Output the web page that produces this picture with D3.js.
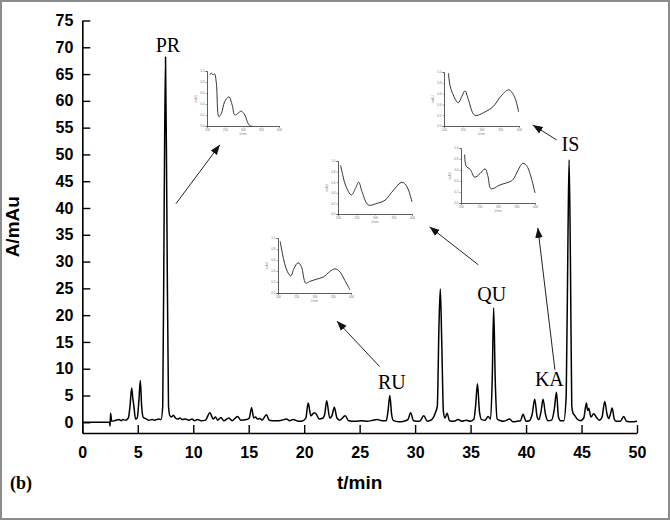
<!DOCTYPE html>
<html>
<head>
<meta charset="utf-8">
<script src="https://cdn.jsdelivr.net/npm/d3@7"></script>
<style>
  body { margin: 0; background: #fff; }
  svg { display: block; }
</style>
</head>
<body>
<div id="chart"></div>
<script>
// chromatogram, [t/min, A/mAu]
const chromatogram = [
  [0,0],[2.45,0],[2.5,-0.7],[2.55,1.7],[2.65,0.2],[2.9,0.3],[3.3,0.5],[3.5,0.3],[3.65,0.5],[3.9,0.4],
  [4.15,0.8],[4.3,3.0],[4.45,6.4],[4.55,4.5],[4.65,3.0],[4.8,0.6],[4.95,0.8],[5.1,4.0],[5.23,7.8],[5.35,3.0],
  [5.5,0.9],[5.8,0.6],[6.0,0.4],[6.3,0.5],[6.5,0.4],[6.9,0.6],[7.1,0.5],[7.25,3],[7.38,40],[7.5,68.2],
  [7.62,40],[7.77,3],[7.9,1.2],[8.05,1.0],[8.2,1.3],[8.4,0.8],[8.6,0.6],[8.8,0.8],[9.0,0.5],[9.3,0.6],
  [9.6,0.4],[9.9,0.6],[10.1,0.3],[10.4,0.5],[10.7,0.3],[11.1,0.4],[11.5,1.8],[11.8,0.6],[12.0,1.0],[12.2,0.4],
  [12.5,0.9],[12.75,0.3],[13.2,0.8],[13.5,0.3],[14.0,1.1],[14.3,0.4],[14.8,0.5],[15.05,0.8],[15.26,2.7],[15.45,0.8],
  [15.6,1.0],[15.8,0.6],[16.0,0.7],[16.2,0.4],[16.6,1.4],[16.85,0.4],[17.4,0.3],[18.0,0.4],[18.4,0.6],[18.7,0.3],
  [19.0,0.5],[19.5,0.2],[19.9,0.3],[20.15,0.8],[20.36,3.6],[20.6,1.2],[20.9,1.8],[21.1,1.5],[21.35,0.6],[21.7,0.8],
  [21.85,1.5],[22.03,4.0],[22.3,0.8],[22.5,1.2],[22.72,2.8],[22.95,0.8],[23.2,0.4],[23.7,1.2],[24.0,0.3],[24.6,0.2],
  [25.2,0.3],[25.7,0.2],[26.2,0.4],[26.6,0.5],[27.0,0.3],[27.4,0.3],[27.55,2.0],[27.72,5.0],[27.88,1.5],[28.05,0.3],
  [28.5,0.1],[29.0,0.2],[29.35,0.5],[29.6,1.8],[29.85,0.3],[30.4,0.2],[30.78,1.2],[31.1,0.2],[31.5,0.5],[31.85,1.9],
  [32.0,3.0],[32.15,18],[32.27,24.9],[32.4,15],[32.55,2.0],[32.7,0.8],[32.88,1.7],[33.1,0.3],[33.5,0.2],[33.9,0.5],
  [34.2,0.2],[34.6,0.4],[35.0,0.2],[35.3,0.6],[35.45,3],[35.62,7.2],[35.8,2],[36.0,0.5],[36.3,0.4],[36.58,1.1],
  [36.8,0.6],[36.95,8],[37.08,21.4],[37.22,8],[37.4,0.6],[37.7,0.3],[38.0,0.2],[38.53,0.6],[38.8,0.1],[39.2,0.2],
  [39.5,0.3],[39.73,1.5],[40.0,0.2],[40.3,0.3],[40.55,1.5],[40.78,4.3],[41.0,1.0],[41.15,0.5],[41.35,2.0],[41.53,4.3],
  [41.75,1.5],[41.98,0.3],[42.3,0.4],[42.55,2.5],[42.74,5.6],[42.92,1.0],[43.1,0.3],[43.4,0.3],[43.62,5],[43.78,35],
  [43.88,49],[44.0,30],[44.12,3.0],[44.22,1.8],[44.38,1.3],[44.6,0.6],[44.9,0.3],[45.2,0.8],[45.44,3.6],[45.55,2.2],
  [45.65,2.6],[45.85,1.0],[46.1,1.6],[46.35,0.9],[46.6,0.4],[46.85,1.0],[47.09,3.9],[47.3,1.5],[47.45,0.7],[47.6,1.5],
  [47.76,2.65],[47.95,0.6],[48.1,0.2],[48.5,0.2],[48.8,1.1],[49.05,0.2],[49.5,0.1],[50.0,0.2]
];

const xTicks = [0, 5, 10, 15, 20, 25, 30, 35, 40, 45, 50];
const yTicks = [0, 5, 10, 15, 20, 25, 30, 35, 40, 45, 50, 55, 60, 65, 70, 75];

// peak names, where the label sits [t, A]
const peakNames = ["PR", "RU", "QU", "KA", "IS"];
const labelAt = [[7.72, 69.1], [27.9, 6.2], [36.9, 22.7], [42.1, 6.8], [44.0, 50.6]];
// arrows from label to spectrum, [t, A] tail -> head
const arrowFrom = [[8.44, 40.8], [26.8, 10.4], [35.7, 29.4], [42.6, 9.8], [42.76, 52.7]];
const arrowTo   = [[12.4, 51.8], [22.95, 18.9], [31.3, 36.5], [41.06, 36.3], [40.6, 55.5]];

// UV spectra of each peak, [nm, relative absorbance]
const specPR = [[207,93],[213,96],[217,93],[221,95],[226,78],[233,17],[240,23],[249,44],[261,53],[270,38],
  [277,20],[286,23],[295,27],[305,20],[314,5],[320,0],[326,0]];
const specRU = [[206,94],[212,72],[218,54],[228,36],[235,31],[244,45],[255,55],[264,48],[276,18],[287,21],
  [305,25],[324,29],[342,39],[356,44],[369,39],[383,23],[397,6]];
const specQU = [[207,92],[214,70],[221,53],[236,36],[247,48],[256,60],[265,42],[282,17],[305,20],[327,26],
  [350,45],[373,60],[386,52],[400,23]];
const specIS = [[212,98],[216,75],[223,60],[238,43],[247,54],[256,65],[265,49],[282,20],[309,26],[331,36],
  [354,57],[373,67],[388,54],[399,26]];
const specKA = [[210,88],[214,67],[225,61],[237,47],[252,54],[265,62],[273,48],[281,26],[306,33],[333,39],
  [341,43],[367,72],[379,66],[400,18]];

const W = 670, H = 520;
const margin = {top: 20.5, right: 33, bottom: 87, left: 82.3};

const svg = d3.select("#chart").append("svg")
    .attr("width", W)
    .attr("height", H);

svg.append("rect")
    .attr("x", 1).attr("y", 1)
    .attr("width", W - 2).attr("height", H - 2)
    .attr("fill", "#fff")
    .attr("stroke", "#8c8c8c")
    .attr("stroke-width", 2);

const x = d3.scaleLinear().domain([0, 50]).range([margin.left, W - margin.right]);
const y = d3.scaleLinear().domain([-2, 75]).range([H - margin.bottom, margin.top]);

const axisFont = "'Liberation Sans', Arial, sans-serif";
const serif = "'Liberation Serif', 'Times New Roman', serif";

// axes, ticks point inwards
const gx = svg.append("g")
    .attr("transform", "translate(0," + y(-2) + ")")
    .call(d3.axisBottom(x).tickValues(xTicks).tickSizeInner(-8).tickSizeOuter(0).tickPadding(14));
const gy = svg.append("g")
    .attr("transform", "translate(" + x(0) + ",0)")
    .call(d3.axisLeft(y).tickValues(yTicks).tickSizeInner(-8).tickSizeOuter(0).tickPadding(9));

[gx, gy].forEach(g => {
    g.select(".domain").attr("stroke", "#000").attr("stroke-width", 1.6);
    g.selectAll(".tick line").attr("stroke", "#000").attr("stroke-width", 1.4);
    g.selectAll(".tick text")
        .attr("fill", "#000")
        .style("font-family", axisFont)
        .style("font-weight", "bold")
        .style("font-size", "16px");
});

// chromatogram trace
svg.append("path")
    .datum(chromatogram)
    .attr("fill", "none")
    .attr("stroke", "#000")
    .attr("stroke-width", 1.5)
    .attr("stroke-linejoin", "round")
    .attr("d", d3.line().x(d => x(d[0])).y(d => y(d[1])).curve(d3.curveMonotoneX));

// axis titles
svg.append("text")
    .attr("transform", "translate(19," + ((y(75) + y(-2)) / 2) + ") rotate(-90)")
    .attr("text-anchor", "middle")
    .style("font-family", axisFont)
    .style("font-weight", "bold")
    .style("font-size", "19px")
    .text("A/mAu");

svg.append("text")
    .attr("x", (x(0) + x(50)) / 2)
    .attr("y", 489)
    .attr("text-anchor", "middle")
    .style("font-family", axisFont)
    .style("font-weight", "bold")
    .style("font-size", "19px")
    .text("t/min");

svg.append("text")
    .attr("x", 10)
    .attr("y", 489)
    .style("font-family", serif)
    .style("font-weight", "bold")
    .style("font-size", "18px")
    .text("(b)");

// arrows
svg.append("defs").append("marker")
    .attr("id", "head")
    .attr("viewBox", "0 0 10 10")
    .attr("refX", 10).attr("refY", 5)
    .attr("markerWidth", 10).attr("markerHeight", 10)
    .attr("markerUnits", "userSpaceOnUse")
    .attr("orient", "auto")
    .append("path")
    .attr("d", "M0,1.2 L10,5 L0,8.8 Z")
    .attr("fill", "#111");

svg.selectAll(".arrow")
    .data(d3.range(arrowFrom.length))
    .enter().append("line")
    .attr("class", "arrow")
    .attr("x1", i => x(arrowFrom[i][0]))
    .attr("y1", i => y(arrowFrom[i][1]))
    .attr("x2", i => x(arrowTo[i][0]))
    .attr("y2", i => y(arrowTo[i][1]))
    .attr("stroke", "#222")
    .attr("stroke-width", 1)
    .attr("marker-end", "url(#head)");

svg.selectAll(".peak-label")
    .data(peakNames)
    .enter().append("text")
    .attr("class", "peak-label")
    .attr("x", (d, i) => x(labelAt[i][0]))
    .attr("y", (d, i) => y(labelAt[i][1]))
    .attr("text-anchor", "middle")
    .style("font-family", serif)
    .style("font-size", "20px")
    .text(d => d);

// small spectrum insets: box placement in pixels
const insets = [
    {data: specPR, left: 207, top: 71, width: 72, height: 55},
    {data: specRU, left: 278, top: 238, width: 73, height: 55},
    {data: specQU, left: 338, top: 161, width: 74, height: 53},
    {data: specIS, left: 444, top: 72, width: 75, height: 54},
    {data: specKA, left: 461, top: 148, width: 74, height: 55}
];

insets.forEach(function(s) {
    let sx = d3.scaleLinear().domain([200, 400]).range([s.left, s.left + s.width]);
    let sy = d3.scaleLinear().domain([0, 100]).range([s.top + s.height, s.top]);
    let g = svg.append("g");

    let ax = g.append("g")
        .attr("transform", "translate(0," + (s.top + s.height) + ")")
        .call(d3.axisBottom(sx).ticks(4).tickSize(1.5).tickPadding(1).tickFormat(d3.format("d")));
    let ay = g.append("g")
        .attr("transform", "translate(" + s.left + ",0)")
        .call(d3.axisLeft(sy).ticks(6).tickSize(1.5).tickPadding(1).tickFormat(d => (d / 100).toFixed(1)));
    [ax, ay].forEach(a => {
        a.select(".domain").attr("stroke", "#333").attr("stroke-width", 0.8);
        a.selectAll(".tick line").attr("stroke", "#555").attr("stroke-width", 0.5);
        a.selectAll(".tick text").attr("fill", "#777").style("font-size", "3px").style("font-family", axisFont);
    });

    g.append("text")
        .attr("x", s.left + s.width / 2)
        .attr("y", s.top + s.height + 9)
        .attr("text-anchor", "middle")
        .attr("fill", "#888")
        .style("font-size", "3.5px")
        .style("font-family", axisFont)
        .text("λ/nm");
    g.append("text")
        .attr("transform", "translate(" + (s.left - 10) + "," + (s.top + s.height / 2) + ") rotate(-90)")
        .attr("text-anchor", "middle")
        .attr("fill", "#888")
        .style("font-size", "3.5px")
        .style("font-family", axisFont)
        .text("mAU");

    g.append("path")
        .datum(s.data)
        .attr("fill", "none")
        .attr("stroke", "#333")
        .attr("stroke-width", 1)
        .attr("d", d3.line().x(d => sx(d[0])).y(d => sy(d[1])).curve(d3.curveCatmullRom));
});
</script>
</body>
</html>
